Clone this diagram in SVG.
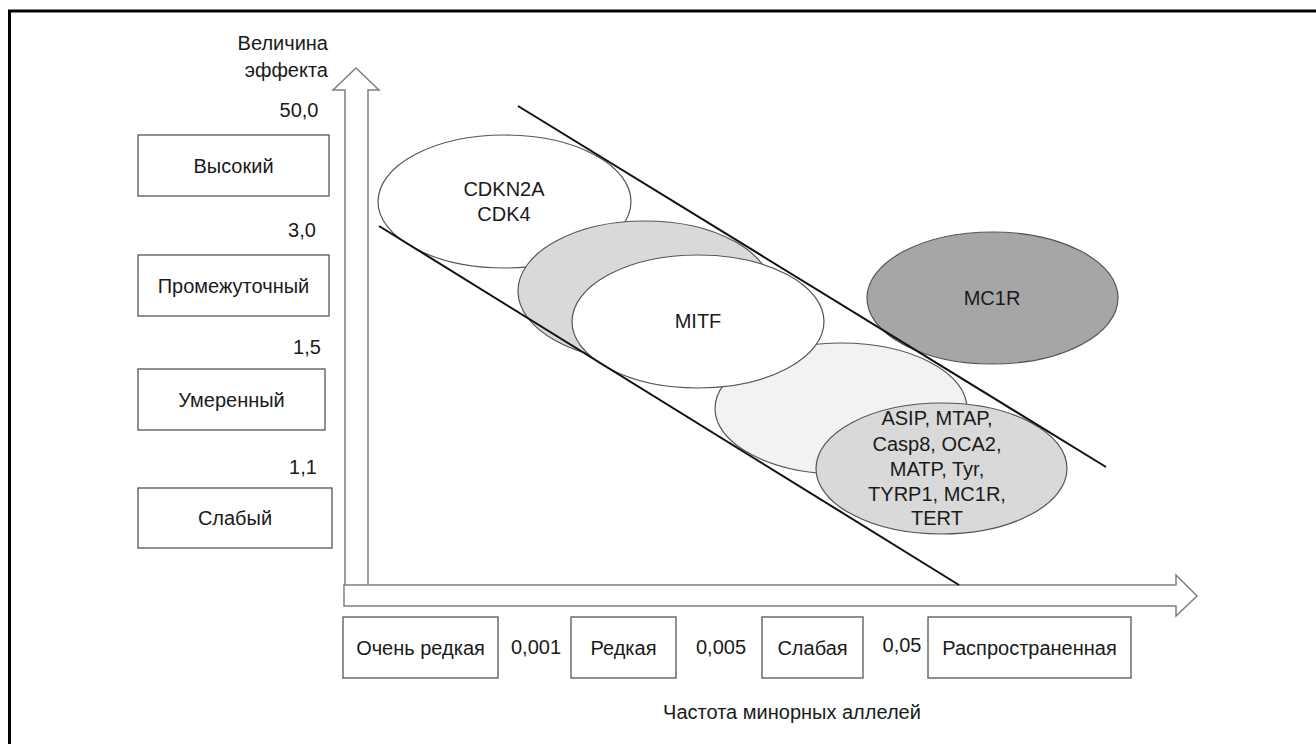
<svg xmlns="http://www.w3.org/2000/svg" width="1316" height="744" viewBox="0 0 1316 744">
<style>
text{font-family:"Liberation Sans",Arial,sans-serif;font-size:20px;fill:#1a1a1a;dominant-baseline:central}
.c{text-anchor:middle}
.r{text-anchor:end}
.box{fill:#fff;stroke:#555;stroke-width:1.3}
.ell{stroke:#555;stroke-width:1.2}
.axis{fill:#fff;stroke:#7f7f7f;stroke-width:1.5}
.diag{stroke:#111;stroke-width:2}
</style>
<rect x="0" y="0" width="1316" height="744" fill="#fff"/>
<rect x="9.5" y="11" width="1400" height="800" fill="none" stroke="#000" stroke-width="3"/>

<g id="axes">
<polygon class="axis" points="345,590 345,90 333,90 356,68 379,90 368,90 368,590"/>
<polygon class="axis" points="344,585 1176,585 1176,575 1197,596 1176,616 1176,606 344,606"/>
<text class="r" x="328" y="43">Величина</text>
<text class="r" x="328" y="70">эффекта</text>
<text class="c" x="792" y="712">Частота минорных аллелей</text>
</g>

<g id="y-labels">
<text class="c" x="299" y="110">50,0</text>
<text class="c" x="302" y="230">3,0</text>
<text class="c" x="307" y="347">1,5</text>
<text class="c" x="303" y="467">1,1</text>
</g>
<g id="y-high"><rect class="box" x="138" y="135" width="191" height="61"/><text class="c" x="233.5" y="166">Высокий</text></g>
<g id="y-intermediate"><rect class="box" x="138" y="255" width="191" height="61"/><text class="c" x="233.5" y="286">Промежуточный</text></g>
<g id="y-moderate"><rect class="box" x="138" y="369" width="187" height="61"/><text class="c" x="231.5" y="400">Умеренный</text></g>
<g id="y-weak"><rect class="box" x="138" y="488" width="194" height="60"/><text class="c" x="235" y="518">Слабый</text></g>

<g id="x-labels">
<text class="c" x="536" y="647">0,001</text>
<text class="c" x="721" y="647">0,005</text>
<text class="c" x="902" y="645">0,05</text>
</g>
<g id="x-very-rare"><rect class="box" x="343" y="617" width="155" height="61"/><text class="c" x="420.5" y="648">Очень редкая</text></g>
<g id="x-rare"><rect class="box" x="571" y="617" width="105" height="61"/><text class="c" x="623.5" y="648">Редкая</text></g>
<g id="x-low"><rect class="box" x="762" y="617" width="101" height="61"/><text class="c" x="812.5" y="648">Слабая</text></g>
<g id="x-common"><rect class="box" x="928" y="617" width="203" height="61"/><text class="c" x="1029.5" y="648">Распространенная</text></g>

<g id="cdkn2a"><ellipse class="ell" cx="504.5" cy="201.5" rx="126.5" ry="66.5" fill="#fff"/><text class="c" x="504" y="189">CDKN2A</text><text class="c" x="504" y="214">CDK4</text></g>
<g id="gray-mid"><ellipse class="ell" cx="645" cy="291" rx="127" ry="70" fill="#d9d9d9"/></g>
<g id="lightgray"><ellipse class="ell" cx="841" cy="408.5" rx="126" ry="65.5" fill="#f2f2f2"/></g>
<g id="mitf"><ellipse class="ell" cx="698" cy="321.5" rx="126" ry="66.5" fill="#fff"/><text class="c" x="698" y="321">MITF</text></g>
<g id="asip"><ellipse class="ell" cx="941.5" cy="468.5" rx="125.5" ry="65.5" fill="#d9d9d9"/>
<text class="c" x="937" y="418">ASIP, MTAP,</text>
<text class="c" x="937" y="444">Casp8, OCA2,</text>
<text class="c" x="937" y="469">MATP, Tyr,</text>
<text class="c" x="937" y="494">TYRP1, MC1R,</text>
<text class="c" x="937" y="518">TERT</text>
</g>
<g id="mc1r"><ellipse class="ell" cx="992.5" cy="298" rx="125.5" ry="66" fill="#a6a6a6"/><text class="c" x="992" y="298">MC1R</text></g>

<g id="connectors">
<line class="diag" x1="518" y1="106" x2="1106" y2="467"/>
<line class="diag" x1="379" y1="226" x2="959" y2="585"/>
</g>
</svg>
